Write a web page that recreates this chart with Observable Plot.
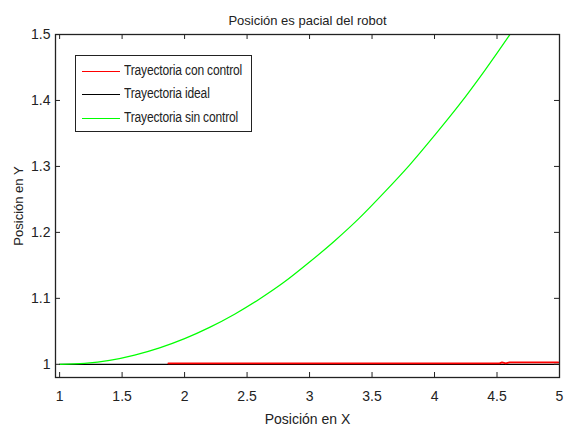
<!DOCTYPE html>
<html>
<head>
<meta charset="utf-8">
<script src="https://cdn.jsdelivr.net/npm/d3@7"></script>
<script src="https://cdn.jsdelivr.net/npm/@observablehq/plot@0.6"></script>
<style>
  html, body { margin: 0; padding: 0; background: #fff; }
  #wrap { position: relative; width: 570px; height: 431px; font-family: "Liberation Sans", Arial, sans-serif; }
  #legend { position: absolute; left: 75px; top: 55px; width: 177px; height: 77px; border: 1.3px solid #222; background: #fff; box-sizing: border-box; }
  .li { position: absolute; left: 6px; height: 16px; font-size: 14px; color: #222; white-space: nowrap; }
  .li span.sw { position: absolute; left: 0; top: 8px; width: 38px; height: 0; border-top: 1.3px solid; }
  .li span.tx { position: absolute; left: 42px; top: -1px; transform: scaleX(0.86); transform-origin: left center; letter-spacing: -0.2px; }
</style>
</head>
<body>
<div id="wrap"></div>
<script>
const title = "Posición es pacial del robot";
const xLabel = "Posición en X";
const yLabel = "Posición en Y";
const seriesNames = ["Trayectoria con control", "Trayectoria ideal", "Trayectoria sin control"];
const seriesColors = ["#ff0000", "#000000", "#00ff00"];

const xTicks = [1, 1.5, 2, 2.5, 3, 3.5, 4, 4.5, 5];
const xTickLabels = ["1", "1.5", "2", "2.5", "3", "3.5", "4", "4.5", "5"];
const yTicks = [1, 1.1, 1.2, 1.3, 1.4, 1.5];
const yTickLabels = ["1", "1.1", "1.2", "1.3", "1.4", "1.5"];

// Trayectoria sin control (green)
const sinX = [1.0, 1.2, 1.4, 1.6, 1.8, 2.0, 2.2, 2.4, 2.6, 2.8, 3.0, 3.2, 3.4, 3.6, 3.8, 4.0, 4.2, 4.4, 4.6, 4.8];
const sinY = [1.0, 1.0015, 1.006, 1.014, 1.025, 1.039, 1.056, 1.076, 1.099, 1.125, 1.155, 1.187, 1.222, 1.261, 1.302, 1.347, 1.394, 1.445, 1.499, 1.556];
// Trayectoria ideal (black)
const idealX = [1, 5];
const idealY = [1, 1];
// Trayectoria con control (red)
const conX = [1.87, 4.52, 4.54, 4.57, 4.6, 4.99];
const conY = [1.0015, 1.0015, 1.003, 1.0015, 1.003, 1.003];

const toRows = (xs, ys) => xs.map((x, i) => ({x, y: ys[i]}));
const sinData = toRows(sinX, sinY);
const idealData = toRows(idealX, idealY);
const conData = toRows(conX, conY);

const fontFamily = '"Liberation Sans", Arial, sans-serif';
const frameH = 431 - 34 - 54;
const frameW = 570 - 55 - 11;

const chart = Plot.plot({
  width: 570,
  height: 431,
  marginLeft: 55,
  marginRight: 11,
  marginTop: 34,
  marginBottom: 54,
  style: {fontFamily, fontSize: "14px", color: "#222", background: "#fff"},
  x: {domain: [0.967, 5], axis: null},
  y: {domain: [0.98, 1.5], axis: null},
  marks: [
    Plot.line(idealData, {x: "x", y: "y", stroke: seriesColors[1], strokeWidth: 1.2}),
    Plot.line(conData, {x: "x", y: "y", stroke: seriesColors[0], strokeWidth: 1.8}),
    Plot.line(sinData, {x: "x", y: "y", stroke: seriesColors[2], strokeWidth: 1.2, curve: "monotone-x", clip: true}),
    // inward ticks
    Plot.tickX(xTicks, {x: d => d, insetTop: frameH - 5, stroke: "#222"}),
    Plot.tickX(xTicks, {x: d => d, insetBottom: frameH - 5, stroke: "#222"}),
    Plot.tickY(yTicks, {y: d => d, insetRight: frameW - 5, stroke: "#222"}),
    Plot.tickY(yTicks, {y: d => d, insetLeft: frameW - 5, stroke: "#222"}),
    Plot.frame({stroke: "#222", strokeWidth: 1.3}),
    Plot.axisX(xTicks, {tickSize: 0, tickPadding: 14, tickFormat: (d, i) => xTickLabels[i], label: null, fontSize: 14, fill: "#222"}),
    Plot.axisY(yTicks, {tickSize: 0, tickPadding: 5, tickFormat: (d, i) => yTickLabels[i], label: null, fontSize: 14, fill: "#222"}),
    Plot.text([title], {frameAnchor: "top", dy: -19, fontSize: 13, fill: "#222"}),
    Plot.text([xLabel], {frameAnchor: "bottom", dy: 46, fontSize: 14, fill: "#222"}),
    Plot.text([yLabel], {frameAnchor: "left", dx: -37, rotate: -90, textAnchor: "middle", fontSize: 13, fill: "#222", letterSpacing: "1.5px"})
  ]
});

const wrap = document.getElementById("wrap");
wrap.appendChild(chart);

const legend = document.createElement("div");
legend.id = "legend";
const tops = [7, 30, 54];
seriesNames.forEach((name, i) => {
  const item = document.createElement("div");
  item.className = "li";
  item.style.top = tops[i] + "px";
  const sw = document.createElement("span");
  sw.className = "sw";
  sw.style.borderColor = seriesColors[i];
  const tx = document.createElement("span");
  tx.className = "tx";
  tx.textContent = name;
  item.appendChild(sw);
  item.appendChild(tx);
  legend.appendChild(item);
});
wrap.appendChild(legend);
</script>
</body>
</html>
